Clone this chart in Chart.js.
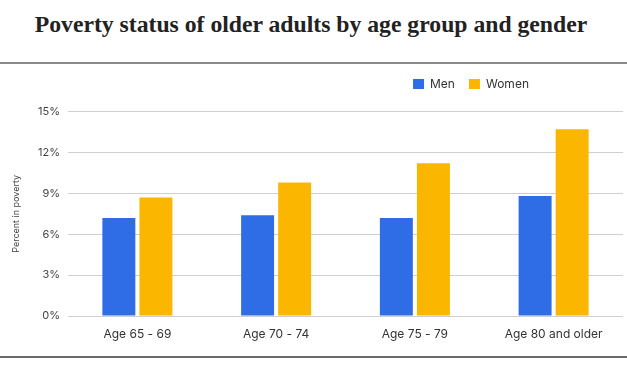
<!DOCTYPE html>
<html>
<head>
<meta charset="utf-8">
<script src="https://cdn.jsdelivr.net/npm/chart.js@4.4.1/dist/chart.umd.min.js"></script>
<style>
  html, body { margin: 0; padding: 0; background: #fff; }
  body { width: 627px; height: 376px; position: relative; overflow: hidden; }
  h1 {
    position: absolute; left: 0; top: 13px; width: 627px; margin: 0;
    text-align: center; font: bold 23.7px/23.7px "Liberation Serif", serif; color: #222;
    padding-right: 5px; box-sizing: border-box;
  }
  #frame {
    position: absolute; left: 0; top: 62px; width: 627px; height: 292px;
    border-top: 2px solid #8a8a8a; border-bottom: 2px solid #6a6a6a;
  }
  #wrap { position: absolute; left: 0; top: 0; width: 627px; height: 292px; }
</style>
</head>
<body>
<h1>Poverty status of older adults by age group and gender</h1>
<div id="frame"><div id="wrap"><canvas id="povertyChart"></canvas></div></div>
<script>
const categories = ['Age 65 - 69', 'Age 70 - 74', 'Age 75 - 79', 'Age 80 and older'];
const seriesNames = ['Men', 'Women'];
const menValues = [7.2, 7.4, 7.2, 8.8];
const womenValues = [8.7, 9.8, 11.2, 13.7];
const yTicks = [0, 3, 6, 9, 12, 15];

const blue = '#2f6de6';
const yellow = '#fbb600';

// legend sits right of centre in the original and has extra room below it
const legendTweak = {
  id: 'legendTweak',
  beforeInit(chart) {
    const lg = chart.legend;
    const fit = lg.fit;
    lg.fit = function () {
      fit.call(lg);
      lg.height += 11.5;
    };
  },
  afterLayout(chart) {
    const lg = chart.legend;
    lg.left += 154;
    lg.right += 154;
  }
};

document.addEventListener('DOMContentLoaded', () => {
  const ctx = document.getElementById('povertyChart').getContext('2d');
  new Chart(ctx, {
    type: 'bar',
    data: {
      labels: categories,
      datasets: [
        { label: seriesNames[0], data: menValues, backgroundColor: blue },
        { label: seriesNames[1], data: womenValues, backgroundColor: yellow }
      ]
    },
    options: {
      responsive: true,
      maintainAspectRatio: false,
      animation: false,
      categoryPercentage: 0.534,
      barPercentage: 0.89,
      layout: { padding: { left: 11, right: 4, top: 0, bottom: 11.5 } },
      plugins: {
        legend: {
          position: 'top',
          align: 'center',
          labels: {
            boxWidth: 11, boxHeight: 10, padding: 14,
            color: '#333', font: { family: 'Inter, Roboto, sans-serif', size: 12 }
          }
        },
        tooltip: { enabled: false }
      },
      scales: {
        x: {
          grid: { display: false },
          border: { display: false },
          ticks: { color: '#333', padding: 3, font: { family: 'Inter, Roboto, sans-serif', size: 12 } }
        },
        y: {
          min: 0, max: 15,
          afterBuildTicks(scale) { scale.ticks = yTicks.map(v => ({ value: v })); },
          afterFit(scale) { scale.width = 57; },
          grid: { color: '#cfcfcf', drawTicks: false },
          border: { display: false },
          title: {
            display: true, text: 'Percent in poverty', color: '#444',
            font: { family: 'Inter, Roboto, sans-serif', size: 9 }, padding: 0
          },
          ticks: {
            color: '#444', padding: 8,
            font: { family: 'Inter, Roboto, sans-serif', size: 11 },
            callback: v => v + '%'
          }
        }
      }
    },
    plugins: [legendTweak]
  });
});
</script>
</body>
</html>
